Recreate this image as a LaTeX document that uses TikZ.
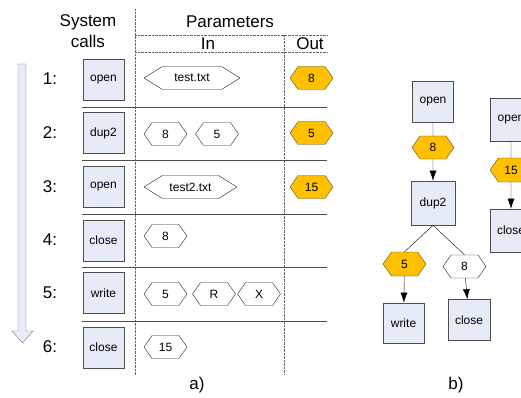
\documentclass[tikz,border=0pt]{standalone}
\usepackage{fontspec}
\setmainfont{Liberation Sans}
\usetikzlibrary{shapes.symbols, arrows.meta}
\definecolor{callfill}{HTML}{E6ECF7}
\definecolor{fdfill}{HTML}{FFC000}
\definecolor{linegray}{HTML}{4D4D4D}

\begin{document}
\begin{tikzpicture}[x=1pt, y=-1pt, >={Latex[length=10pt, width=7pt]}, semithick,
    call/.style={draw=linegray, fill=callfill, minimum width=41pt, minimum height=41pt, inner sep=0pt, font=\fontsize{12}{14}\selectfont},
    arg/.style={signal, signal to=west and east, draw=black!85, fill=white, thin, minimum height=23pt, minimum width=43pt, inner sep=0pt, signal pointer angle=110, font=\fontsize{12}{14}\selectfont},
    fd/.style={arg, fill=fdfill, draw=linegray},
    head/.style={font=\fontsize{17}{21}\selectfont, align=center},
    sep/.style={draw=linegray, thick},
    grid/.style={draw=black!60, densely dotted, thin}]
  \useasboundingbox (0,0) rectangle (521,398);

  % time arrow
  \draw[draw=black!55, fill=callfill, thin] (18,64) -- (26,64) -- (26,331) -- (33,331) -- (22.5,343) -- (12,331) -- (18,331) -- cycle;

  % table
  \draw[grid] (135,9) -- (135,375);
  \draw[grid] (284,35) -- (284,375);
  \draw[grid] (135,35) -- (327,35);
  \draw[grid] (135,52) -- (327,52);
  \foreach \y in {107,160,214,267,321}
    \draw[sep] (82,\y) -- (327,\y);

  \node[head] (sc) at (88,31) {System\\calls};
  \node[head] (pm) at (230,22) {Parameters};
  \node[head] (in) at (208,44) {In};
  \node[head] (out) at (310,44) {Out};

  \foreach \n/\y in {1/79,2/133,3/187,4/240,5/293,6/347}
    \node[head] (n\n) at (50,\y) {\n:};

  \node[call] (c1) at (103.5,79.5) {open};
  \node[call] (c2) at (103.5,133) {dup2};
  \node[call] (c3) at (103.5,187) {open};
  \node[call] (c4) at (103.5,240.5) {close};
  \node[call] (c5) at (103.5,293) {write};
  \node[call] (c6) at (103.5,347.5) {close};

  \node[arg, minimum width=96pt, signal pointer angle=64] (a1) at (192,78) {test.txt};
  \node[arg] (a2) at (165.5,134) {8};
  \node[arg] (a3) at (217,134) {5};
  \node[arg, minimum width=93pt, signal pointer angle=64] (a4) at (190.5,187) {test2.txt};
  \node[arg] (a5) at (165.5,236) {8};
  \node[arg] (a6) at (165.5,294) {5};
  \node[arg] (a7) at (214,294) {R};
  \node[arg] (a8) at (259,294) {X};
  \node[arg] (a9) at (165.5,347) {15};

  \node[fd] (r1) at (311.5,78) {8};
  \node[fd] (r2) at (311.5,133) {5};
  \node[fd] (r3) at (311.5,187) {15};

  \node[head] (la) at (197,385) {a)};

  % b) graph
  \node[call] (o1) at (433,101.5) {open};
  \node[fd, minimum width=42pt] (h1) at (433,147.5) {8};
  \node[call, minimum width=44pt, minimum height=44pt] (d1) at (433,203) {dup2};
  \node[fd, minimum height=24pt] (h2) at (404.5,264) {5};
  \node[arg] (h3) at (464.5,266.5) {8};
  \node[call, minimum height=40pt] (w1) at (403.5,323) {write};
  \node[call, minimum width=42pt] (cl1) at (469,320) {close};
  \node[call, minimum width=42pt, minimum height=43pt] (o2) at (511,119.5) {open};
  \node[fd, minimum width=42pt, minimum height=24pt] (h4) at (511,170) {15};
  \node[call, minimum width=42pt, minimum height=43pt] (cl2) at (511,230.5) {close};

  \draw[thin] (o1) -- (h1);
  \draw[thin, ->] (h1) -- (d1);
  \draw[thin] (d1.south) -- (h2.north);
  \draw[thin] (d1.south) -- (h3.north);
  \draw[thin, ->] (h2) -- (w1);
  \draw[thin, ->] (h3) -- (cl1);
  \draw[thin] (o2) -- (h4);
  \draw[thin, ->] (h4) -- (cl2);

  \node[head] (lb) at (456,385) {b)};
\end{tikzpicture}
\end{document}
